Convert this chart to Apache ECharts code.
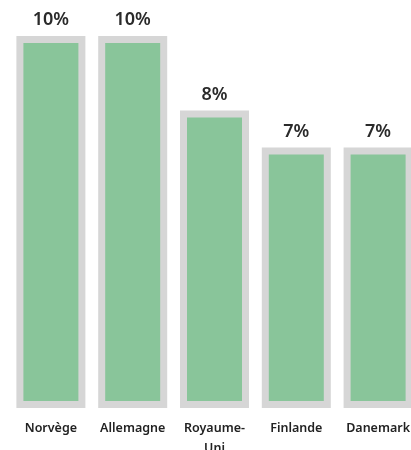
<!DOCTYPE html>
<html>
<head>
<meta charset="utf-8">
<script src="https://cdn.jsdelivr.net/npm/echarts@6/dist/echarts.min.js"></script>
<style>
html,body{margin:0;padding:0;background:#fff;overflow:hidden;}
#chart{width:411px;height:450px;}
</style>
</head>
<body>
<div id="chart"></div>
<script>
const categories = ['Norvège', 'Allemagne', 'Royaume-\nUni', 'Finlande', 'Danemark'];
const values = [10, 10, 8, 7, 7];

const chart = echarts.init(document.getElementById('chart'));
chart.setOption({
  animation: false,
  grid: { left: 10, right: -8, top: 36, bottom: 42, containLabel: false, outerBoundsMode: 'none' },
  xAxis: {
    type: 'category',
    data: categories,
    axisLine: { show: false },
    axisTick: { show: false },
    axisLabel: {
      interval: 0,
      margin: 10,
      color: '#222',
      fontFamily: '"Noto Sans", sans-serif',
      fontSize: 12.5,
      fontWeight: 600,
      lineHeight: 20
    }
  },
  yAxis: {
    type: 'value',
    min: 0,
    max: 10,
    show: false,
    splitLine: { show: false }
  },
  series: [{
    type: 'bar',
    data: values,
    barWidth: 69,
    itemStyle: {
      color: '#89c59a',
      borderColor: '#d6d6d6',
      borderWidth: 7
    },
    label: {
      show: true,
      position: 'top',
      distance: 7,
      formatter: p => p.value + '%',
      color: '#2a2a2a',
      fontFamily: '"Noto Sans", sans-serif',
      fontSize: 18,
      fontWeight: 600
    }
  }]
});
</script>
</body>
</html>
